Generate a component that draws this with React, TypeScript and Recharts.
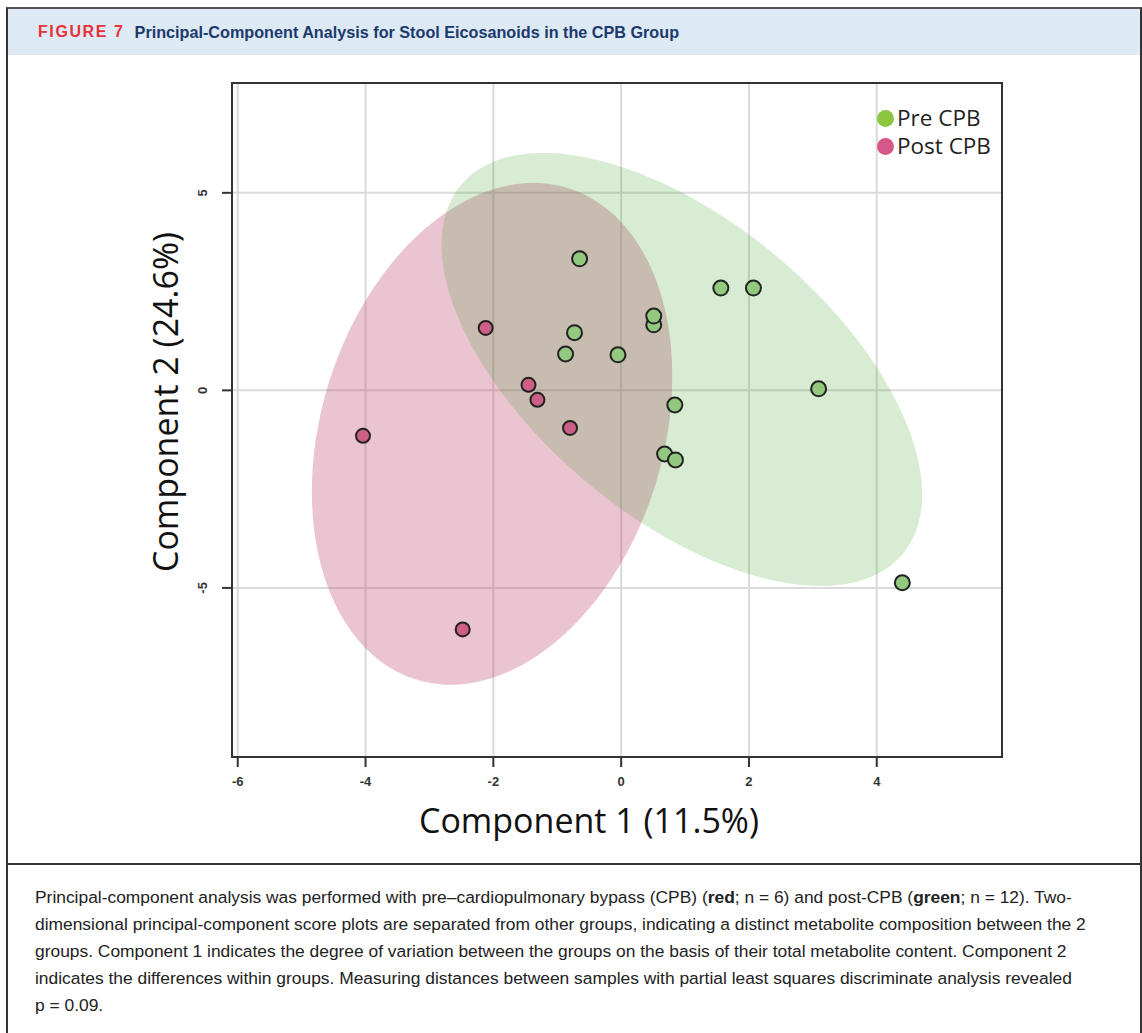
import React from 'react';
import {
  ScatterChart,
  Scatter,
  XAxis,
  YAxis,
  CartesianGrid,
  ReferenceArea,
} from 'recharts';

// Axis ticks and visible range
const X_TICKS = [-6, -4, -2, 0, 2, 4];
const Y_TICKS = [-5, 0, 5];
const X_DOMAIN = [-6.09, 5.96];
const Y_DOMAIN = [-9.28, 7.78];

// Sample scores
const preCpbX = [-0.65, 1.56, 2.07, 0.51, 0.51, -0.73, -0.87, -0.05, 3.09, 0.84, 0.68, 0.85, 4.4];
const preCpbY = [3.33, 2.59, 2.59, 1.66, 1.88, 1.46, 0.92, 0.9, 0.04, -0.37, -1.61, -1.76, -4.87];
const postCpbX = [-2.12, -1.45, -1.31, -0.8, -4.04, -2.48];
const postCpbY = [1.58, 0.14, -0.24, -0.95, -1.15, -6.05];

// Confidence ellipses: centre, half extent on each axis, correlation
const ellipseGroups = ['Post CPB', 'Pre CPB'];
const ellipseCx = [-2.02, 0.95];
const ellipseCy = [-1.1, 0.53];
const ellipseSx = [2.82, 3.76];
const ellipseSy = [6.35, 5.48];
const ellipseR = [0.23, -0.577];

const legendNames = ['Pre CPB', 'Post CPB'];

const COLORS = {
  pre: { ellipse: '#3ca028', ellipseOpacity: 0.2, point: '#93c97f', legend: '#8cc63f' },
  post: { ellipse: '#b83c66', ellipseOpacity: 0.3, point: '#cc5f86', legend: '#d6588a' },
};
const legendColors = [COLORS.pre.legend, COLORS.post.legend];

const preData = preCpbX.map((x, i) => ({ x, y: preCpbY[i] }));
const postData = postCpbX.map((x, i) => ({ x, y: postCpbY[i] }));

const BODY_FONT = '"Liberation Sans", Arial, sans-serif';
const TITLE_FONT = '"Open Sans", "Noto Sans", sans-serif';

// ellipse drawn inside the reference-area box the library computed for it
const renderEllipse = (props: any, idx: number) => {
  const { x, y, width, height } = props;
  const w = Math.abs(width) / 2;
  const h = Math.abs(height) / 2;
  const cx = x + width / 2;
  const cy = y + height / 2;
  const r = ellipseR[idx];
  const k = Math.sqrt(1 - r * r);
  const pts: string[] = [];
  for (let i = 0; i <= 180; i++) {
    const t = (i / 180) * Math.PI * 2;
    const u = Math.cos(t);
    const v = Math.sin(t);
    pts.push(`${(cx + u * w).toFixed(2)},${(cy - (r * u + k * v) * h).toFixed(2)}`);
  }
  const c = idx === 0 ? COLORS.post : COLORS.pre;
  return (
    <path d={`M${pts.join('L')}Z`} fill={c.ellipse} fillOpacity={c.ellipseOpacity} stroke="none" />
  );
};

const XTick = (props: any) => {
  const { x, y, payload } = props;
  return (
    <text x={x} y={y} dy={17} textAnchor="middle" fontFamily={BODY_FONT} fontWeight={700} fontSize={13} fill="#333">
      {payload.value}
    </text>
  );
};

const YTick = (props: any) => {
  const { x, y, payload } = props;
  const tx = x - 17;
  return (
    <text
      x={tx}
      y={y}
      transform={`rotate(-90 ${tx} ${y})`}
      textAnchor="middle"
      dominantBaseline="central"
      fontFamily={BODY_FONT}
      fontWeight={700}
      fontSize={13}
      fill="#333"
    >
      {payload.value}
    </text>
  );
};

const XTitle = (props: any) => {
  const vb = props.viewBox || { x: 132, y: 697, width: 770 };
  return (
    <text
      x={vb.x + vb.width / 2 - 28}
      y={vb.y + 76}
      textAnchor="middle"
      fontFamily={TITLE_FONT}
      fontSize={34}
      fill="#111"
    >
      Component 1 (11.5%)
    </text>
  );
};

const YTitle = (props: any) => {
  const vb = props.viewBox || { x: 0, y: 23, height: 674 };
  const tx = vb.x + 65;
  const ty = vb.y + vb.height / 2 - 18;
  return (
    <text
      x={tx}
      y={ty}
      transform={`rotate(-90 ${tx} ${ty})`}
      textAnchor="middle"
      dominantBaseline="central"
      fontFamily={TITLE_FONT}
      fontSize={34}
      fill="#111"
    >
      Component 2 (24.6%)
    </text>
  );
};

const captionLines = [
  <>
    Principal-component analysis was performed with pre–cardiopulmonary bypass (CPB) (<b>red</b>; n = 6) and
    post-CPB (<b>green</b>; n = 12). Two-
  </>,
  <>
    dimensional principal-component score plots are separated from other groups, indicating a distinct metabolite
    composition between the 2
  </>,
  <>
    groups. Component 1 indicates the degree of variation between the groups on the basis of their total metabolite
    content. Component 2
  </>,
  <>
    indicates the differences within groups. Measuring distances between samples with partial least squares
    discriminate analysis revealed
  </>,
  <>p = 0.09.</>,
];

export default function App() {
  return (
    <div style={{ position: 'absolute', left: 0, top: 0, width: 1142, height: 1033, overflow: 'hidden', background: '#fff' }}>
      {/* outer frame */}
      <div
        style={{
          position: 'absolute',
          left: 6,
          top: 7,
          width: 1132,
          height: 1040,
          borderTop: '2px solid #555',
          borderLeft: '2px solid #333',
          borderRight: '2px solid #333',
        }}
      />
      {/* header */}
      <div
        style={{
          position: 'absolute',
          left: 8,
          top: 9,
          width: 1132,
          height: 46,
          background: '#dde9f5',
          display: 'flex',
          alignItems: 'center',
          fontFamily: BODY_FONT,
          fontWeight: 700,
          whiteSpace: 'nowrap',
        }}
      >
        <span style={{ marginLeft: 30, color: '#e8313a', fontSize: 16, letterSpacing: 1.6 }}>FIGURE 7</span>
        <span style={{ marginLeft: 10, color: '#1b3a6b', fontSize: 16.2 }}>
          Principal-Component Analysis for Stool Eicosanoids in the CPB Group
        </span>
      </div>

      {/* chart */}
      <div style={{ position: 'absolute', left: 100, top: 60 }}>
        <ScatterChart width={940} height={800} margin={{ top: 23, right: 38, left: 0, bottom: 13 }}>
          <CartesianGrid stroke="#dadada" strokeWidth={2} />
          <XAxis
            type="number"
            dataKey="x"
            domain={X_DOMAIN}
            ticks={X_TICKS}
            allowDataOverflow
            height={90}
            tick={<XTick />}
            tickSize={10}
            tickMargin={2}
            axisLine={{ stroke: '#333', strokeWidth: 2 }}
            tickLine={{ stroke: '#333', strokeWidth: 2 }}
            label={<XTitle />}
          />
          <YAxis
            type="number"
            dataKey="y"
            domain={Y_DOMAIN}
            ticks={Y_TICKS}
            allowDataOverflow
            width={132}
            tick={<YTick />}
            tickSize={10}
            tickMargin={2}
            axisLine={{ stroke: '#333', strokeWidth: 2 }}
            tickLine={{ stroke: '#333', strokeWidth: 2 }}
            label={<YTitle />}
          />
          {ellipseGroups.map((g, i) => (
            <ReferenceArea
              key={g}
              x1={ellipseCx[i] - ellipseSx[i]}
              x2={ellipseCx[i] + ellipseSx[i]}
              y1={ellipseCy[i] - ellipseSy[i]}
              y2={ellipseCy[i] + ellipseSy[i]}
              ifOverflow="visible"
              shape={(p: any) => renderEllipse(p, i)}
            />
          ))}
          <ReferenceArea
            x1={X_DOMAIN[0]}
            x2={X_DOMAIN[1]}
            y1={Y_DOMAIN[0]}
            y2={Y_DOMAIN[1]}
            fill="none"
            stroke="#333"
            strokeWidth={2}
            ifOverflow="visible"
          />
          <Scatter
            name="Post CPB"
            data={postData}
            isAnimationActive={false}
            shape={(p: any) => (
              <circle cx={p.cx} cy={p.cy} r={7} fill={COLORS.post.point} stroke="#222" strokeWidth={2} />
            )}
          />
          <Scatter
            name="Pre CPB"
            data={preData}
            isAnimationActive={false}
            shape={(p: any) => (
              <circle cx={p.cx} cy={p.cy} r={7.5} fill={COLORS.pre.point} stroke="#222" strokeWidth={2} />
            )}
          />
        </ScatterChart>
      </div>

      {/* legend */}
      <div
        style={{
          position: 'absolute',
          left: 877,
          top: 104,
          fontFamily: TITLE_FONT,
          fontSize: 22.5,
          color: '#222',
          lineHeight: '28px',
          whiteSpace: 'nowrap',
        }}
      >
        {legendNames.map((name, i) => (
          <div key={name} style={{ display: 'flex', alignItems: 'center' }}>
            <span
              style={{
                width: 17,
                height: 17,
                borderRadius: '50%',
                background: legendColors[i],
                display: 'inline-block',
                marginRight: 3,
              }}
            />
            {name}
          </div>
        ))}
      </div>

      {/* separator */}
      <div style={{ position: 'absolute', left: 6, top: 863, width: 1136, height: 2, background: '#333' }} />

      {/* caption */}
      <div
        style={{
          position: 'absolute',
          left: 35,
          top: 884,
          fontFamily: BODY_FONT,
          fontSize: 17.4,
          lineHeight: '27px',
          color: '#222',
          whiteSpace: 'nowrap',
        }}
      >
        {captionLines.map((line, i) => (
          <div key={i}>{line}</div>
        ))}
      </div>
    </div>
  );
}
